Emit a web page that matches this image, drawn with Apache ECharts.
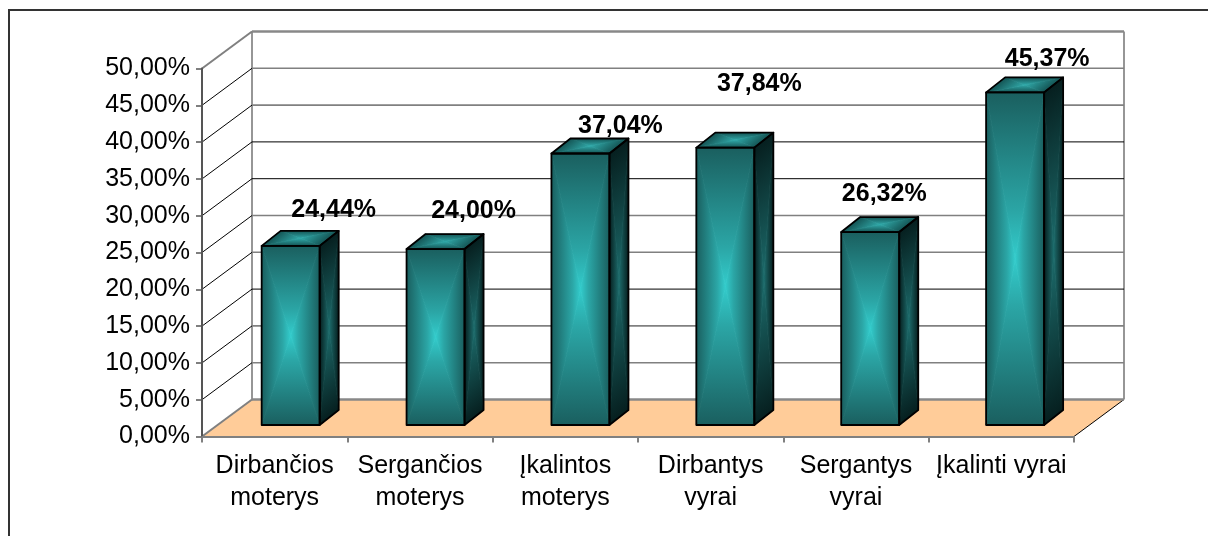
<!DOCTYPE html>
<html>
<head>
<meta charset="utf-8">
<style>html,body{margin:0;padding:0;background:#fff}#c{width:1208px;height:536px}</style>
<script src="https://cdn.jsdelivr.net/npm/echarts@6/dist/echarts.min.js"></script>
</head>
<body>
<div id="c"></div>
<script>
var categories = ['Dirbančios\nmoterys', 'Sergančios\nmoterys', 'Įkalintos\nmoterys', 'Dirbantys\nvyrai', 'Sergantys\nvyrai', 'Įkalinti vyrai'];
var values = [24.44, 24.00, 37.04, 37.84, 26.32, 45.37];
var valueLabels = ['24,44%', '24,00%', '37,04%', '37,84%', '26,32%', '45,37%'];
var yTicks = [0, 5, 10, 15, 20, 25, 30, 35, 40, 45, 50];
var gridShades = ['#808080', '#808080', '#808080', '#000000', '#808080', '#808080', '#000000', '#000000', '#808080', '#808080', '#000000'];
// label placement relative to each bar's front top-centre (moved by hand in the original)
var labelShift = [[43, -36], [38, -38], [40, -27], [34, -64], [14, -38], [32, -33]];

var DEPTH_X = 50, DEPTH_Y = -37;
var BAR_W = 58, BAR_DX = 19, BAR_DY = -15, BAR_SHIFT_X = 16, BAR_PITCH_TRIM = 0.44, BAR_SHIFT_Y = -11.5, BAR_H_SCALE = 0.996;

function mix(edge, center, mid) {
  return [{ offset: 0, color: edge }, { offset: 0.72, color: mid }, { offset: 1, color: center }];
}
function tri(a, b, c, from, to, stops) {
  var g = { type: 'linear', global: true, x: from[0], y: from[1], x2: to[0], y2: to[1], colorStops: stops };
  return {
    type: 'polygon', silent: true,
    shape: { points: [a, b, c] },
    style: { lineWidth: 0.8, stroke: g, fill: g }
  };
}
function pathGrad(pts, edge, center, mid) {
  var c = [0, 0];
  pts.forEach(function (p) { c[0] += p[0] / 4; c[1] += p[1] / 4; });
  var out = [];
  for (var i = 0; i < 4; i++) {
    var a = pts[i], b = pts[(i + 1) % 4];
    // foot of the perpendicular from the centre to this edge
    var ex = b[0] - a[0], ey = b[1] - a[1];
    var t = ((c[0] - a[0]) * ex + (c[1] - a[1]) * ey) / (ex * ex + ey * ey);
    var foot = [a[0] + ex * t, a[1] + ey * t];
    out.push(tri(a, b, c, foot, c, mix(edge, center, mid)));
  }
  return out;
}
function outline(pts) {
  return { type: 'polygon', silent: true, shape: { points: pts }, style: { fill: 'none', stroke: '#000', lineWidth: 1.8, lineJoin: 'round' } };
}

function renderWall(params, api) {
  var cs = params.coordSys;
  var v = api.value(1);
  var y = api.coord([0, v])[1];
  var L = cs.x, R = cs.x + cs.width;
  var kids = [];
  if (v === 0) {
    kids.push({ type: 'polygon', silent: true, shape: { points: [[L, y], [L + DEPTH_X, y + DEPTH_Y], [R + DEPTH_X, y + DEPTH_Y], [R, y]] }, style: { fill: '#FFCC99' } });
    kids.push({ type: 'line', silent: true, shape: { x1: R, y1: y, x2: R + DEPTH_X, y2: y + DEPTH_Y }, style: { stroke: '#000', lineWidth: 1 } });
    kids.push({ type: 'line', silent: true, shape: { x1: L + DEPTH_X, y1: y + DEPTH_Y, x2: L + DEPTH_X, y2: y + DEPTH_Y - cs.height }, style: { stroke: '#969696', lineWidth: 2 } });
    kids.push({ type: 'line', silent: true, shape: { x1: R + DEPTH_X, y1: y + DEPTH_Y, x2: R + DEPTH_X, y2: y + DEPTH_Y - cs.height }, style: { stroke: '#969696', lineWidth: 2 } });
  }
  var outer = v === 0 || v === 50;
  kids.push({ type: 'line', silent: true, shape: { x1: L + DEPTH_X, y1: y + DEPTH_Y, x2: R + DEPTH_X, y2: y + DEPTH_Y }, style: { stroke: outer ? '#888888' : gridShades[params.dataIndex], lineWidth: outer ? 2.4 : (gridShades[params.dataIndex] === '#000000' ? 1 : 1.6) } });
  kids.push({ type: 'line', silent: true, shape: { x1: L, y1: y, x2: L + DEPTH_X, y2: y + DEPTH_Y }, style: { stroke: outer ? '#808080' : '#000', lineWidth: outer ? 2 : 1 } });
  return { type: 'group', children: kids };
}

function renderBar(params, api) {
  var i = params.dataIndex;
  var p = api.coord([api.value(0), api.value(1)]);
  var base = api.coord([api.value(0), 0]);
  var x0 = p[0] + BAR_SHIFT_X - BAR_PITCH_TRIM * i - BAR_W / 2, x1 = x0 + BAR_W;
  var yB = base[1] + BAR_SHIFT_Y, yT = yB - (base[1] - p[1]) * BAR_H_SCALE;
  var front = [[x0, yT], [x1, yT], [x1, yB], [x0, yB]];
  var side = [[x1, yT], [x1 + BAR_DX, yT + BAR_DY], [x1 + BAR_DX, yB + BAR_DY], [x1, yB]];
  var top = [[x0 + BAR_DX, yT + BAR_DY], [x1 + BAR_DX, yT + BAR_DY], [x1, yT], [x0, yT]];
  var kids = []
    .concat(pathGrad(front, '#1A5F5F', '#33CCCC', '#2BA6A6'))
    .concat(pathGrad(side, '#061F1F', '#1C6C6C', '#165656'))
    .concat(pathGrad(top, '#145454', '#2FA8A8', '#289090'))
    .concat([outline(side), outline(top), outline(front)]);
  kids.push({
    type: 'text', silent: true, z2: 100,
    style: {
      text: valueLabels[i],
      x: (x0 + x1) / 2 + labelShift[i][0], y: yT + labelShift[i][1],
      align: 'center', verticalAlign: 'middle',
      font: 'bold 25px "Liberation Sans", Arial, sans-serif', fill: '#000'
    }
  });
  return { type: 'group', children: kids };
}

var chart = echarts.init(document.getElementById('c'), null, { renderer: 'canvas' });
chart.setOption({
  animation: false,
  backgroundColor: '#fff',
  graphic: [{
    type: 'polyline', silent: true, z: 0,
    shape: { points: [[9, 540], [9, 10], [1212, 10]] },
    style: { fill: 'none', stroke: '#333', lineWidth: 2 }
  }],
  grid: { left: 202, right: 134, top: 68.5, bottom: 99.5 },
  xAxis: {
    type: 'category', data: categories, boundaryGap: true, z: 5,
    axisLine: { show: true, lineStyle: { color: '#808080', width: 2 } },
    axisTick: { show: true, alignWithLabel: false, interval: 0, length: 6, lineStyle: { color: '#808080', width: 2 } },
    axisLabel: { interval: 0, margin: 14, color: '#000', fontFamily: '"Liberation Sans", Arial, sans-serif', fontSize: 25, lineHeight: 32 }
  },
  yAxis: {
    type: 'value', min: 0, max: 50, interval: 5, z: 5,
    splitLine: { show: false },
    axisLine: { show: true, lineStyle: { color: '#555', width: 2 } },
    axisTick: { show: true, length: 6, lineStyle: { color: '#555', width: 1.5 } },
    axisLabel: { margin: 12, padding: [4, 0, 0, 0], color: '#000', fontFamily: '"Liberation Sans", Arial, sans-serif', fontSize: 25,
      formatter: function (v) { return v.toFixed(2).replace('.', ',') + '%'; } }
  },
  series: [
    { type: 'custom', z: 1, clip: false, silent: true, encode: { x: 0, y: 1 },
      data: yTicks.map(function (v) { return [0, v]; }), renderItem: renderWall },
    { type: 'custom', z: 3, clip: false, silent: true, encode: { x: 0, y: 1 },
      data: values.map(function (v, i) { return [i, v]; }), renderItem: renderBar }
  ]
});
</script>
</body>
</html>
